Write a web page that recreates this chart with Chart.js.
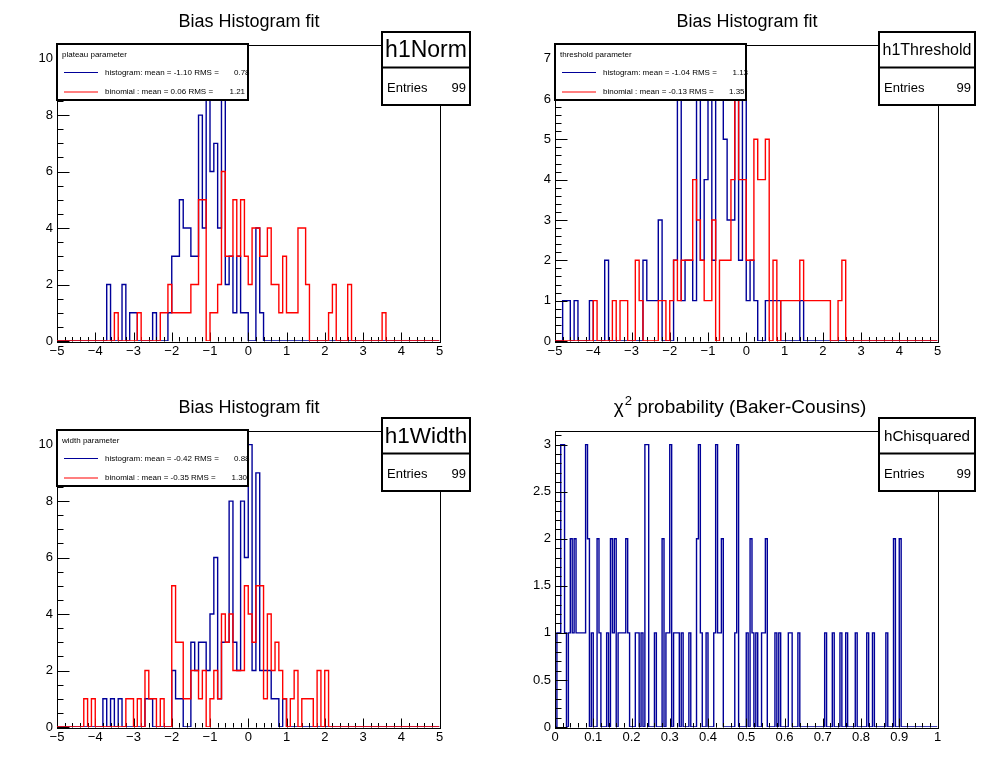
<!DOCTYPE html>
<html>
<head>
<meta charset="utf-8">
<script src="https://cdn.jsdelivr.net/npm/chart.js@4.4.1/dist/chart.umd.min.js"></script>
<style>
  html, body { margin: 0; padding: 0; background: #fff; }
  #root { position: relative; width: 996px; height: 772px; }
  .pad { position: absolute; width: 498px; height: 386px; }
  .pad canvas { display: block; }
</style>
</head>
<body>
<div id="root">
  <div class="pad" style="left:0;top:0"><canvas id="pad1" width="498" height="386"></canvas></div>
  <div class="pad" style="left:498px;top:0"><canvas id="pad2" width="498" height="386"></canvas></div>
  <div class="pad" style="left:0;top:386px"><canvas id="pad3" width="498" height="386"></canvas></div>
  <div class="pad" style="left:498px;top:386px"><canvas id="pad4" width="498" height="386"></canvas></div>
</div>
<script>
// bin contents, 100 bins from -5 to 5 (pads 1-3), 200 bins from 0 to 1 (pad 4)
const normHistogram = [
  0,0,0,0,0,0,0,0,0,0,  0,0,0,0,2,0,0,0,2,0,  1,1,0,0,0,0,1,0,0,0,
  1,3,3,5,4,4,3,3,8,4,  10,6,7,4,9,2,3,1,3,1,  1,0,0,4,1,0,0,0,0,0,
  0,0,0,0,0,0,0,0,0,0,  0,0,0,0,0,0,0,0,0,0,  0,0,0,0,0,0,0,0,0,0,
  0,0,0,0,0,0,0,0,0,0
];
const normBinomial = [
  0,0,0,0,0,0,0,0,0,0,  0,0,0,0,0,0,1,0,0,0,  0,0,1,0,0,0,0,0,1,1,
  2,1,1,1,1,1,2,2,5,5,  0,1,1,2,6,3,3,5,3,5,  3,2,4,4,3,3,4,2,2,1,
  3,1,1,1,4,4,2,0,0,0,  0,0,1,2,0,0,0,2,0,0,  0,0,0,0,0,0,1,0,0,0,
  0,0,0,0,0,0,0,0,0,0
];
const threshHistogram = [
  0,0,0,1,1,0,1,0,0,0,  1,0,0,0,2,0,0,0,0,0,  0,0,0,0,2,1,1,1,3,0,
  0,0,2,7,1,2,2,1,6,2,  4,7,2,6,6,5,3,3,6,2,  6,1,2,1,0,0,1,1,1,1,
  0,0,0,0,0,1,0,0,0,0,  0,0,0,0,0,0,0,0,0,0,  0,0,0,0,0,0,0,0,0,0,
  0,0,0,0,0,0,0,0,0,0
];
const threshBinomial = [
  0,0,0,0,0,0,0,0,0,0,  0,1,0,0,0,0,1,0,1,1,  0,0,2,1,0,0,0,0,1,1,
  0,1,2,1,2,2,2,4,3,2,  1,1,3,0,2,2,2,4,6,4,  4,2,2,5,4,4,5,0,2,0,
  1,1,1,1,1,2,1,1,1,1,  1,1,1,0,0,1,2,0,0,0,  0,0,0,0,0,0,0,0,0,0,
  0,0,0,0,0,0,0,0,0,0
];
const widthHistogram = [
  0,0,0,0,0,0,0,0,0,0,  0,0,0,1,0,1,0,1,0,0,  0,0,0,0,1,1,0,0,0,0,
  0,2,1,1,0,0,3,2,3,3,  2,4,6,1,3,3,8,3,2,8,  6,10,2,9,2,2,2,1,1,0,
  1,0,0,0,0,0,0,0,0,0,  0,0,0,0,0,0,0,0,0,0,  0,0,0,0,0,0,0,0,0,0,
  0,0,0,0,0,0,0,0,0,0
];
const widthBinomial = [
  0,0,0,0,0,0,0,0,1,0,  1,0,0,0,0,0,0,0,0,1,  1,0,1,0,2,1,1,0,1,0,
  0,5,3,3,1,1,2,2,1,2,  0,1,2,1,4,3,4,2,2,2,  5,4,3,5,5,1,4,2,3,2,
  1,0,1,2,0,1,1,1,0,2,  0,2,0,0,0,0,0,0,0,0,  0,0,0,0,0,0,0,0,0,0,
  0,0,0,0,0,0,0,0,0,0
];
const chiProbability = [
  0,0,1,1,3,3,1,0,1,2,  1,2,1,1,1,1,1,3,2,0,  1,0,0,2,1,0,0,0,1,0,
  2,1,2,0,1,1,1,1,2,1,  0,0,0,1,1,0,1,0,3,3,  0,0,0,1,0,0,0,2,0,1,
  1,3,0,1,1,1,0,1,0,0,  0,1,0,0,0,2,3,1,0,0,  1,0,0,0,1,3,1,1,2,0,
  0,0,0,0,0,1,3,0,0,0,  0,1,0,2,1,0,1,0,0,1,  1,2,0,0,0,0,1,0,1,0,
  0,0,0,1,1,0,0,0,1,0,  0,0,0,0,0,0,0,0,0,0,  0,0,1,0,0,0,1,0,0,0,
  1,0,0,1,0,0,0,0,1,0,  0,0,0,0,1,0,0,1,0,0,  0,0,0,0,1,0,0,0,2,0,
  0,2,0,0,0,0,0,0,0,0,  0,0,0,0,0,0,0,0,0,0
];

// tick labels
const biasXTicks = [-5, -4, -3, -2, -1, 0, 1, 2, 3, 4, 5];
const chiXTicks = [0, 0.1, 0.2, 0.3, 0.4, 0.5, 0.6, 0.7, 0.8, 0.9, 1];
const normYTicks = [0, 2, 4, 6, 8, 10];
const threshYTicks = [0, 1, 2, 3, 4, 5, 6, 7];
const widthYTicks = [0, 2, 4, 6, 8, 10];
const chiYTicks = [0, 0.5, 1, 1.5, 2, 2.5, 3];

// legend texts
const normLegend = [['histogram: mean = -1.10 RMS =', '0.78'], ['binomial : mean = 0.06 RMS =', '1.21']];
const threshLegend = [['histogram: mean = -1.04 RMS =', '1.13'], ['binomial : mean = -0.13 RMS =', '1.35']];
const widthLegend = [['histogram: mean = -0.42 RMS =', '0.88'], ['binomial : mean = -0.35 RMS =', '1.30']];

const BLUE = '#000099';
const RED = '#ff0000';
const FONT = '"Liberation Sans", Arial, Helvetica, sans-serif';

Chart.defaults.font.family = FONT;
Chart.defaults.color = '#000';

const pads = [
  {
    id: 'pad1', title: 'Bias Histogram fit', xMin: -5, xMax: 5, xTicks: biasXTicks, xMinor: 0.2,
    yTicks: normYTicks, yMinor: 0.5,
    hists: [normHistogram, normBinomial],
    stats: { name: 'h1Norm', size: 23, left: 382, right: 470, entries: '99' },
    legend: { title: 'plateau parameter', rows: normLegend, numX: [234, 229.5] }
  },
  {
    id: 'pad2', title: 'Bias Histogram fit', xMin: -5, xMax: 5, xTicks: biasXTicks, xMinor: 0.2,
    yTicks: threshYTicks, yMinor: 0.2,
    hists: [threshHistogram, threshBinomial],
    stats: { name: 'h1Threshold', size: 16, left: 381, right: 477, entries: '99' },
    legend: { title: 'threshold parameter', rows: threshLegend, numX: [234.5, 231] }
  },
  {
    id: 'pad3', title: 'Bias Histogram fit', xMin: -5, xMax: 5, xTicks: biasXTicks, xMinor: 0.2,
    yTicks: widthYTicks, yMinor: 0.5,
    hists: [widthHistogram, widthBinomial],
    stats: { name: 'h1Width', size: 22.5, left: 382, right: 470, entries: '99' },
    legend: { title: 'width parameter', rows: widthLegend, numX: [234, 231.5] }
  },
  {
    id: 'pad4', title: 'chi', xMin: 0, xMax: 1, xTicks: chiXTicks, xMinor: 0.02,
    yTicks: chiYTicks, yMinor: 0.1,
    hists: [chiProbability],
    stats: { name: 'hChisquared', size: 15.2, left: 381, right: 477, entries: '99' },
    legend: null
  }
];

function fmtTick(v) {
  return v < 0 ? '\u2212' + (-v) : String(v);
}

function histPoints(counts, lo, hi) {
  const w = (hi - lo) / counts.length;
  const pts = counts.map((c, i) => ({ x: lo + i * w, y: c }));
  pts.push({ x: hi, y: counts[counts.length - 1] });
  return pts;
}

function steps(min, max, step) {
  const out = [];
  const n = Math.floor((max - min) / step + 1e-6);
  for (let i = 0; i <= n; i++) out.push(min + i * step);
  return out;
}

function drawFrame(chart, pad) {
  const ctx = chart.ctx;
  const a = chart.chartArea;
  const xs = chart.scales.x, ys = chart.scales.y;
  ctx.save();
  ctx.strokeStyle = '#000';
  ctx.lineWidth = 1;
  ctx.strokeRect(Math.round(a.left) + 0.5, Math.round(a.top) + 0.5,
    Math.round(a.right - a.left), Math.round(a.bottom - a.top));
  ctx.beginPath();
  const yb = Math.round(a.bottom) + 0.5;
  steps(pad.xMin, pad.xMax, pad.xMinor).forEach(v => {
    const major = pad.xTicks.some(t => Math.abs(t - v) < 1e-6);
    const px = Math.round(xs.getPixelForValue(v)) + 0.5;
    ctx.moveTo(px, yb);
    ctx.lineTo(px, yb - (major ? 9 : 4.5));
  });
  const xl = Math.round(a.left) + 0.5;
  steps(0, ys.max, pad.yMinor).forEach(v => {
    const major = pad.yTicks.some(t => Math.abs(t - v) < 1e-6);
    const py = Math.round(ys.getPixelForValue(v)) + 0.5;
    ctx.moveTo(xl, py);
    ctx.lineTo(xl + (major ? 12 : 6), py);
  });
  ctx.stroke();
  ctx.restore();
}

function drawTitle(ctx, pad) {
  ctx.save();
  ctx.fillStyle = '#000';
  ctx.textBaseline = 'alphabetic';
  ctx.font = '18px ' + FONT;
  if (pad.title === 'chi') {
    const rest = ' probability (Baker-Cousins)';
    ctx.font = '19px ' + FONT;
    const w1 = ctx.measureText('\u03c7').width;
    ctx.font = '13px ' + FONT;
    const w2 = ctx.measureText('2').width;
    ctx.font = '19px ' + FONT;
    const w3 = ctx.measureText(rest).width;
    let x = 241.5 - (w1 + w2 + w3) / 2;
    ctx.textAlign = 'left';
    ctx.fillText('\u03c7', x, 27);
    ctx.font = '13px ' + FONT;
    ctx.fillText('2', x + w1 + 1, 19);
    ctx.font = '19px ' + FONT;
    ctx.fillText(rest, x + w1 + w2 + 1, 27);
  } else {
    ctx.textAlign = 'center';
    ctx.fillText(pad.title, 249, 26.5);
  }
  ctx.restore();
}

function drawStats(ctx, st) {
  const top = 32, mid = 67.5, bottom = 105;
  ctx.save();
  ctx.fillStyle = '#fff';
  ctx.fillRect(st.left, top, st.right - st.left, bottom - top);
  ctx.strokeStyle = '#000';
  ctx.lineWidth = 2;
  ctx.strokeRect(st.left, top, st.right - st.left, bottom - top);
  ctx.beginPath();
  ctx.moveTo(st.left, mid);
  ctx.lineTo(st.right, mid);
  ctx.stroke();
  ctx.fillStyle = '#000';
  ctx.textBaseline = 'middle';
  ctx.textAlign = 'center';
  ctx.font = st.size + 'px ' + FONT;
  ctx.fillText(st.name, (st.left + st.right) / 2, (top + mid) / 2 + 1);
  ctx.font = '13px ' + FONT;
  ctx.textAlign = 'left';
  ctx.fillText('Entries', st.left + 5, 88);
  ctx.textAlign = 'right';
  ctx.fillText(st.entries, st.right - 4, 88);
  ctx.restore();
}

function drawLegend(ctx, lg) {
  const L = 57, T = 44, R = 248, B = 100;
  const rowY = [72.5, 92];
  const colors = [BLUE, RED];
  ctx.save();
  ctx.fillStyle = '#fff';
  ctx.fillRect(L, T, R - L, B - T);
  ctx.strokeStyle = '#000';
  ctx.lineWidth = 2;
  ctx.strokeRect(L, T, R - L, B - T);
  ctx.fillStyle = '#000';
  ctx.textBaseline = 'middle';
  ctx.textAlign = 'left';
  ctx.font = '8px ' + FONT;
  ctx.fillText(lg.title, 62, 55);
  lg.rows.forEach((row, i) => {
    ctx.strokeStyle = colors[i];
    ctx.lineWidth = 1.2;
    ctx.beginPath();
    ctx.moveTo(64, rowY[i]);
    ctx.lineTo(98, rowY[i]);
    ctx.stroke();
    ctx.fillText(row[0], 105, rowY[i]);
    ctx.fillText(row[1], lg.numX[i], rowY[i]);
  });
  ctx.restore();
}

const rootPad = {
  id: 'rootPad',
  afterDatasetDraw(chart, args) {
    // axis and ticks go over the first histogram, the second one is drawn on top
    if (args.index === 0) drawFrame(chart, chart.options.plugins.rootPad.pad);
  },
  afterDraw(chart) {
    const pad = chart.options.plugins.rootPad.pad;
    const ctx = chart.ctx;
    drawTitle(ctx, pad);
    if (pad.legend) drawLegend(ctx, pad.legend);
    drawStats(ctx, pad.stats);
  }
};

pads.forEach(pad => {
  const colors = [BLUE, RED];
  const yMax = 1.05 * Math.max(...pad.hists[0]);
  const datasets = pad.hists.map((h, i) => ({
    data: histPoints(h, pad.xMin, pad.xMax),
    borderColor: colors[i],
    borderWidth: 1.4,
    pointRadius: 0,
    fill: false,
    stepped: 'after',
    tension: 0,
    order: pad.hists.length - i
  }));
  new Chart(document.getElementById(pad.id), {
    type: 'line',
    data: { datasets },
    plugins: [rootPad],
    options: {
      responsive: false,
      animation: false,
      devicePixelRatio: 1,
      layout: { padding: { left: 0, top: 44.5, right: 58.5, bottom: 0 } },
      plugins: {
        legend: { display: false },
        tooltip: { enabled: false },
        rootPad: { pad }
      },
      scales: {
        x: {
          type: 'linear', min: pad.xMin, max: pad.xMax,
          grid: { display: false, drawTicks: false },
          border: { display: false },
          afterBuildTicks: s => { s.ticks = pad.xTicks.map(v => ({ value: v })); },
          afterFit: s => { s.height = 45; },
          ticks: { autoSkip: false, maxRotation: 0, padding: 3, font: { size: 13 }, color: '#000', callback: fmtTick }
        },
        y: {
          type: 'linear', min: 0, max: yMax,
          grid: { display: false, drawTicks: false },
          border: { display: false },
          afterBuildTicks: s => { s.ticks = pad.yTicks.map(v => ({ value: v })); },
          afterFit: s => { s.width = 57; },
          ticks: { padding: 4, font: { size: 13 }, color: '#000', callback: fmtTick }
        }
      }
    }
  });
});
</script>
</body>
</html>
